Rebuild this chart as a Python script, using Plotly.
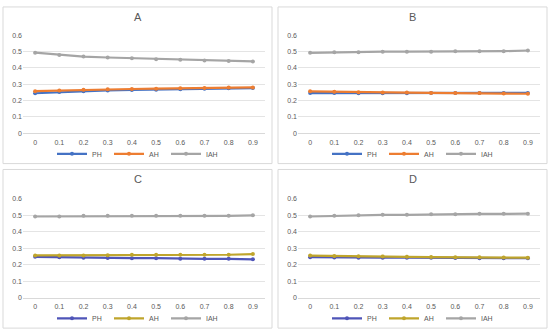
import plotly.graph_objects as go

x_labels = ["0", "0.1", "0.2", "0.3", "0.4", "0.5", "0.6", "0.7", "0.8", "0.9"]
panel_titles = ["A", "B", "C", "D"]
series_names = ["PH", "AH", "IAH"]

A_PH = [0.245, 0.252, 0.257, 0.262, 0.265, 0.267, 0.270, 0.273, 0.275, 0.277]
A_AH = [0.258, 0.262, 0.267, 0.270, 0.271, 0.273, 0.276, 0.277, 0.280, 0.281]
A_IAH = [0.494, 0.480, 0.470, 0.464, 0.460, 0.454, 0.450, 0.446, 0.443, 0.440]

B_PH = [0.246, 0.246, 0.245, 0.245, 0.245, 0.246, 0.246, 0.246, 0.247, 0.247]
B_AH = [0.257, 0.254, 0.251, 0.250, 0.249, 0.247, 0.247, 0.246, 0.243, 0.242]
B_IAH = [0.493, 0.496, 0.497, 0.500, 0.500, 0.500, 0.503, 0.503, 0.503, 0.507]

C_PH = [0.248, 0.245, 0.243, 0.241, 0.240, 0.240, 0.237, 0.236, 0.236, 0.233]
C_AH = [0.257, 0.257, 0.257, 0.258, 0.261, 0.261, 0.261, 0.261, 0.261, 0.265]
C_IAH = [0.493, 0.493, 0.497, 0.497, 0.497, 0.497, 0.497, 0.497, 0.497, 0.500]

D_PH = [0.246, 0.244, 0.243, 0.243, 0.243, 0.242, 0.241, 0.240, 0.240, 0.240]
D_AH = [0.256, 0.253, 0.251, 0.250, 0.248, 0.247, 0.246, 0.246, 0.244, 0.243]
D_IAH = [0.493, 0.497, 0.500, 0.503, 0.503, 0.506, 0.506, 0.509, 0.509, 0.510]

y_ticks = [0, 0.1, 0.2, 0.3, 0.4, 0.5, 0.6]
y_ticklabels = ["0", "0.1", "0.2", "0.3", "0.4", "0.5", "0.6"]

data = [(A_PH, A_AH, A_IAH), (B_PH, B_AH, B_IAH), (C_PH, C_AH, C_IAH), (D_PH, D_AH, D_IAH)]
colors_top = ["#4472C4", "#ED7D31", "#A5A5A5"]
colors_bot = ["#4F55B8", "#BFA52C", "#A5A5A5"]

W, H = 550, 336
def px(x):
    return x / W
def py(y):
    return 1 - y / H

boxes = [(3, 3, 272, 163), (278, 3, 547, 163), (3, 169, 272, 331), (278, 169, 547, 331)]
plot_x = [(23, 265), (298, 540), (23, 265), (298, 540)]
plot_y = [(32, 132), (32, 132), (199, 300), (199, 300)]

fig = go.Figure()
shapes = []
annotations = []
layout = {}
for i in range(4):
    ax = "" if i == 0 else str(i + 1)
    cols = colors_top if i < 2 else colors_bot
    legname = "legend" if i == 0 else "legend" + str(i + 1)
    for s in range(3):
        fig.add_trace(go.Scatter(
            x=x_labels, y=data[i][s], name=series_names[s], mode="lines+markers",
            line=dict(color=cols[s], width=2.2),
            marker=dict(color=cols[s], size=4, symbol="circle"),
            xaxis="x" + ax, yaxis="y" + ax, legend=legname, hoverinfo="skip",
        ))
    x0, x1 = plot_x[i]
    y0, y1 = plot_y[i]
    layout["xaxis" + ax] = dict(
        domain=[px(x0), px(x1)], anchor="y" + ax, type="category",
        range=[-0.5, 9.5], showgrid=False, showline=True, linecolor="#D9D9D9",
        ticks="", ticklabelstandoff=2,
        tickfont=dict(size=7, color="#595959", family="Liberation Sans"),
        fixedrange=True,
    )
    layout["yaxis" + ax] = dict(
        domain=[py(y1), py(y0)], anchor="x" + ax, range=[0, 0.6],
        tickvals=y_ticks, ticktext=y_ticklabels, showgrid=True, gridcolor="#E4E4E4",
        gridwidth=1, zeroline=False, showline=False, ticks="",
        tickfont=dict(size=7, color="#595959", family="Liberation Sans"),
        fixedrange=True,
    )
    bx0, by0, bx1, by1 = boxes[i]
    shapes.append(dict(type="rect", xref="paper", yref="paper",
                       x0=px(bx0), x1=px(bx1), y0=py(by1), y1=py(by0),
                       line=dict(color="#D9D9D9", width=1), fillcolor="rgba(0,0,0,0)"))
    cx = (bx0 + bx1) / 2
    annotations.append(dict(text=panel_titles[i], xref="paper", yref="paper",
                            x=px(cx), y=py(by0 + 10), xanchor="center", yanchor="middle",
                            showarrow=False,
                            font=dict(size=11, color="#595959", family="Liberation Sans")))
    layout[legname] = dict(orientation="h", x=px(cx), y=py(by1 - 10), xanchor="center",
                           yanchor="middle", bgcolor="rgba(0,0,0,0)",
                           font=dict(size=7, color="#595959", family="Liberation Sans"),
                           itemwidth=30, entrywidth=12, tracegroupgap=0)

fig.update_layout(
    width=W, height=H, margin=dict(l=0, r=0, t=0, b=0),
    paper_bgcolor="white", plot_bgcolor="white", hovermode=False,
    shapes=shapes, annotations=annotations, **layout,
)
fig.write_html("out.html", config={"displayModeBar": False, "staticPlot": True},
               post_script="document.body.style.margin='0';document.body.style.overflow='hidden';")
